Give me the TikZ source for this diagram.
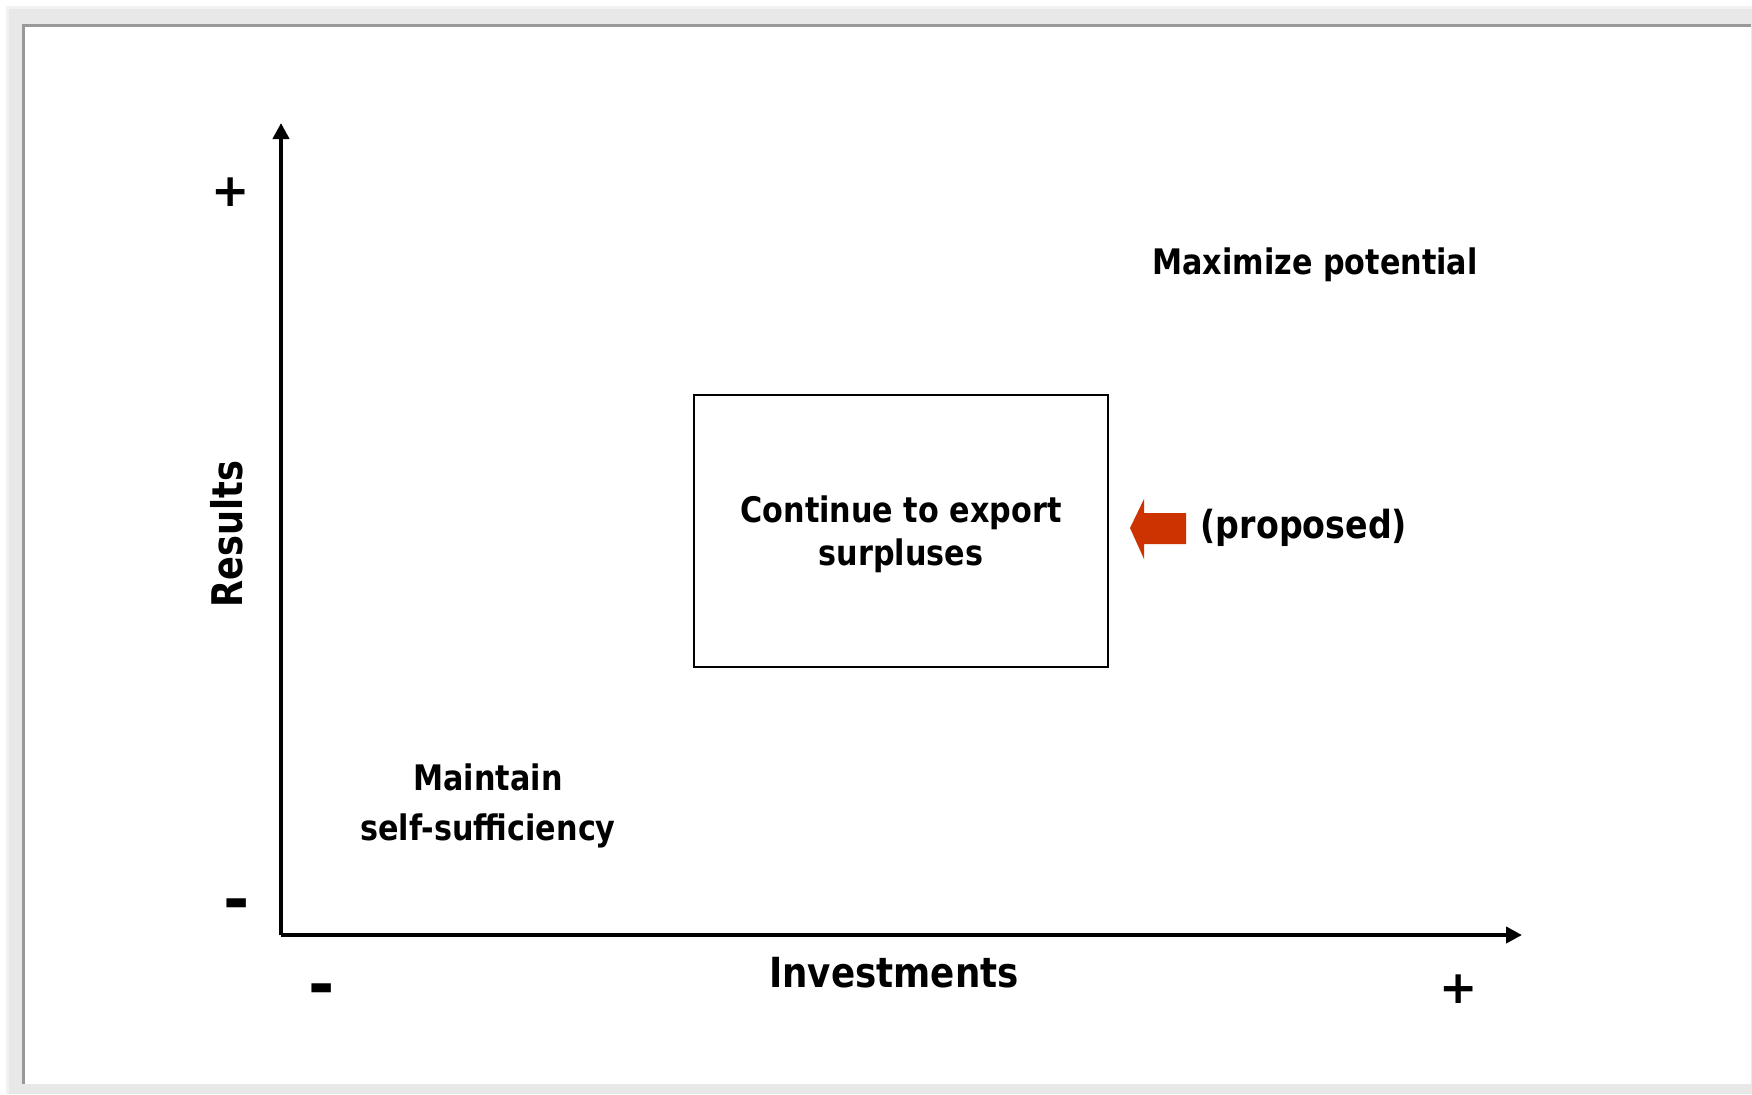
\documentclass[tikz,border=0pt]{standalone}
\usepackage{fontspec}
\usetikzlibrary{arrows.meta}
\newfontfamily\labelfont{DejaVu Sans Bold}[FakeStretch=0.86]
\newfontfamily\axisfont{DejaVu Sans Bold}
\definecolor{myframeouter}{HTML}{f2f2f2}
\definecolor{myframeband}{HTML}{e8e8e8}
\definecolor{myframeedge}{HTML}{999999}
\definecolor{myarrowcolor}{HTML}{cc3300}
\tikzset{
  axisline/.style={line width=1.15pt, -{Triangle[length=0.16cm, width=0.16cm]}},
  quadlabel/.style={inner sep=0pt, align=center, font=\labelfont\fontsize{10pt}{12.2pt}\selectfont},
  signlabel/.style={inner sep=0pt, font=\axisfont\fontsize{13pt}{13pt}\selectfont},
  minuslabel/.style={inner sep=0pt, font=\axisfont\fontsize{18pt}{18pt}\selectfont},
}

\begin{document}
\begin{tikzpicture}[x=0.01cm, y=-0.01cm]%
\useasboundingbox (0, 0) rectangle (1752, 1094);%
\fill[white] (0, 0) rectangle (1752, 1094);%
\fill[myframeouter] (6, 6) rectangle (1752, 1094);%
\fill[myframeband] (9, 9) rectangle (1752, 1094);%
\fill[myframeedge] (22, 24) rectangle (1751, 1084);%
\fill[white] (25, 27) rectangle (1751, 1084);%
\coordinate (origin) at (281, 935);%
\coordinate (ytop) at (281, 123);%
\coordinate (xend) at (1522, 935);%
\draw[axisline] (origin) -- (ytop);%
\draw[axisline] (origin) -- (xend);%
\node[draw, line width=0.6pt, minimum width=4.14cm, minimum height=2.72cm] (export) at (901, 531) {};%
\node[quadlabel, font=\labelfont\fontsize{10pt}{12.3pt}\selectfont] (exporttext) at (901, 534) {Continue to export\\surpluses};%
\node[quadlabel, anchor=base] (maximize) at (1315, 274) {Maximize potential};%
\node[quadlabel, font=\labelfont\fontsize{10pt}{14pt}\selectfont] (maintain) at (488, 806) {Maintain\\self-sufficiency};%
\node[quadlabel, anchor=west, font=\labelfont\fontsize{11pt}{11pt}\selectfont] (proposed) at (1200, 528) {(proposed)};%
\fill[myarrowcolor] (1130, 528) -- (1144, 499) -- (1144, 513) -- (1186, 513) -- (1186, 544) -- (1144, 544) -- (1144, 559) -- cycle;%
\node[quadlabel, anchor=base, font=\labelfont\fontsize{11.8pt}{11.8pt}\selectfont] (investments) at (894, 987) {Investments};%
\node[inner sep=0pt, rotate=90, font=\axisfont\fontsize{10pt}{10pt}\selectfont] (results) at (227, 534) {\scalebox{1}[1.2]{Results}};%
\node[signlabel] (yplus) at (231, 192) {+};%
\node[minuslabel] (yminus) at (237, 910) {-};%
\node[minuslabel] (xminus) at (322, 995) {-};%
\node[signlabel] (xplus) at (1459, 989) {+};%
\end{tikzpicture}
\end{document}
